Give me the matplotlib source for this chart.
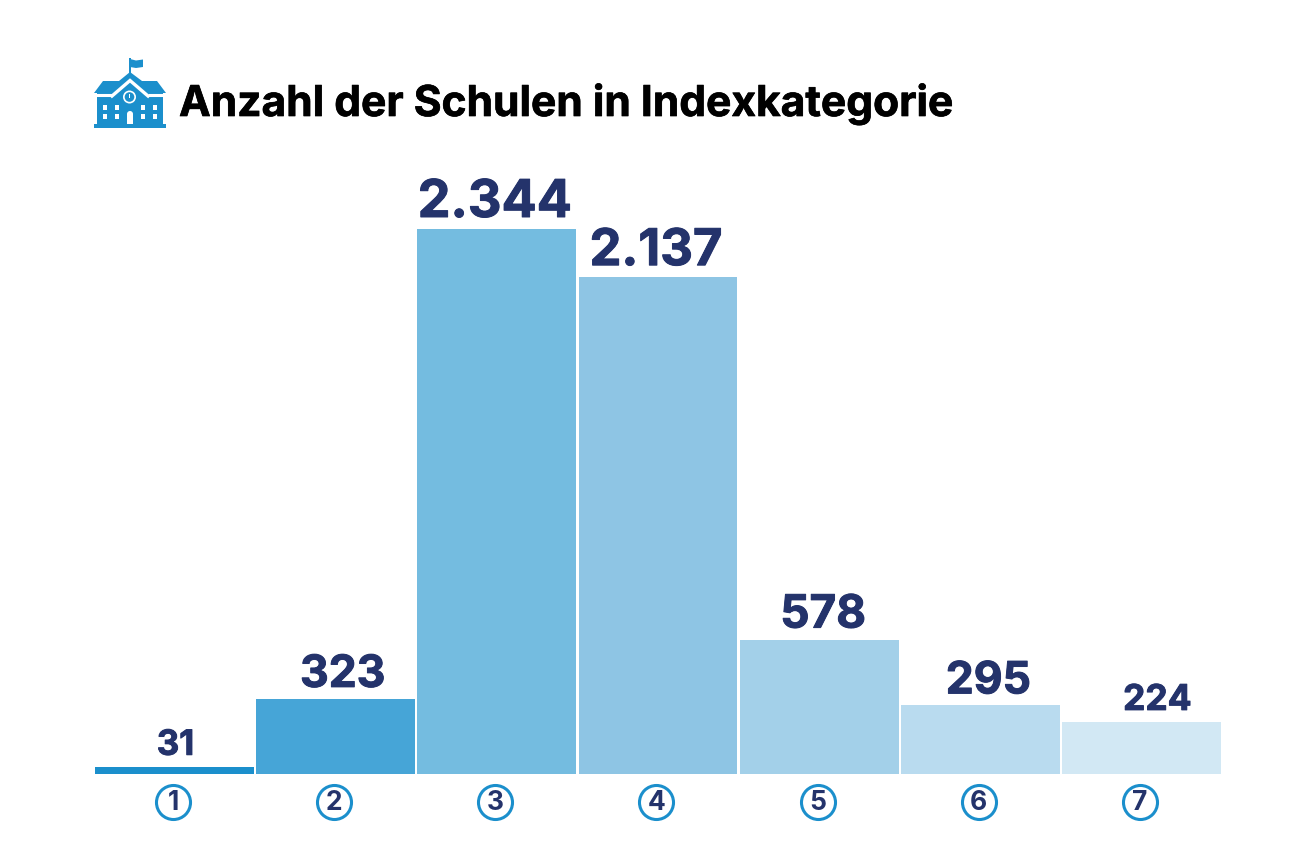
import matplotlib
matplotlib.use('Agg')
import matplotlib.pyplot as plt
import matplotlib.patheffects as pe
from matplotlib.patches import Polygon, Rectangle, Circle

categories = ['1', '2', '3', '4', '5', '6', '7']
schulen = [31, 323, 2344, 2137, 578, 295, 224]
value_labels = ['31', '323', '2.344', '2.137', '578', '295', '224']
bar_colors = ['#1b8fcc', '#46a5d7', '#74bce0', '#8ec5e4', '#a3d0e9', '#b9dbef', '#d2e8f4']
label_sizes = [25, 32, 37.5, 36.5, 33, 32, 25.5]
# labels do not sit exactly over the bar centres in the original
label_shift = [1, 7, -2, -2, 4, 8, 16]

BLUE = '#1b8fcc'
NAVY = '#24336b'
W, H = 1299, 867
PT = 0.72  # pt per pixel at dpi 100

plt.rcParams['font.family'] = ['Inter', 'Liberation Sans', 'DejaVu Sans']

fig = plt.figure(figsize=(W / 100, H / 100), dpi=100)
ax = fig.add_axes([94 / W, 1 - 774 / H, (1222 - 94) / W, (774 - 229) / H])

xs = list(range(len(categories)))
ax.bar(xs, schulen, width=0.985, color=bar_colors)
ax.set_xlim(-0.5, 6.5)
ax.set_ylim(0, 2344)
ax.axis('off')

heavy = [pe.withStroke(linewidth=0.7, foreground=NAVY)]
for x, v, lab, size, dx in zip(xs, schulen, value_labels, label_sizes, label_shift):
    ax.annotate(lab, (x, v), xytext=(dx * PT, 12 * PT), textcoords='offset points',
                ha='center', va='baseline', fontsize=size, fontweight='bold', color=NAVY,
                annotation_clip=False, path_effects=heavy)

# numbered circles under the bars
trans = ax.get_xaxis_transform()
for x, cat in zip(xs, categories):
    ax.plot([x - 0.01], [-0.052], 'o', ms=24.5, mfc='white', mec=BLUE, mew=2.2,
            transform=trans, clip_on=False)
    ax.text(x - 0.01, -0.053, cat, transform=trans, ha='center', va='center',
            fontsize=19, fontweight='bold', color=NAVY)

fig.text(179 / W, 1 - 116 / H, 'Anzahl der Schulen in Indexkategorie', fontsize=30.6,
         fontweight='bold', color='black', ha='left', va='baseline',
         path_effects=[pe.withStroke(linewidth=0.5, foreground='black')])

# school icon, pixel coordinates of the image
icon = fig.add_axes([0, 0, 1, 1])
icon.set_xlim(0, W)
icon.set_ylim(H, 0)
icon.axis('off')
icon.patch.set_alpha(0)
icon.add_patch(Rectangle((129.5, 58), 1.6, 15, color=BLUE, lw=0))
icon.add_patch(Polygon([(130, 59), (136, 60.5), (143, 59.5), (143, 67), (136, 68), (130, 67)],
                       color=BLUE, lw=0))
icon.add_patch(Polygon([(94, 93), (103, 81), (119, 81), (130, 72), (142, 81), (157, 81), (166, 93)],
                       color=BLUE, lw=0))
icon.add_patch(Rectangle((97, 93), 66.5, 31, color=BLUE, lw=0))
icon.plot([94, 112], [95, 95], color='white', lw=2.2, solid_capstyle='butt')
icon.plot([148, 166], [95, 95], color='white', lw=2.2, solid_capstyle='butt')
icon.plot([112, 130, 148], [96, 80.5, 96], color='white', lw=2.4, solid_joinstyle='miter')
icon.add_patch(Rectangle((94, 124), 72, 4, color=BLUE, lw=0))
icon.add_patch(Circle((129.5, 97), 6.5, fc='white', ec='none'))
icon.add_patch(Circle((129.5, 97), 4.8, fc=BLUE, ec='none'))
icon.add_patch(Rectangle((129, 93.5), 1.2, 4, color='white', lw=0))
for wx in [103, 115, 141, 153]:
    for wy in [105, 114]:
        icon.add_patch(Rectangle((wx, wy), 4.5, 4.5, color='white', lw=0))
icon.add_patch(Rectangle((127, 114), 6, 9.5, color='white', lw=0))
icon.add_patch(Circle((130, 114), 3, fc='white', ec='none'))

plt.savefig('out.png', dpi=100)
plt.close()
